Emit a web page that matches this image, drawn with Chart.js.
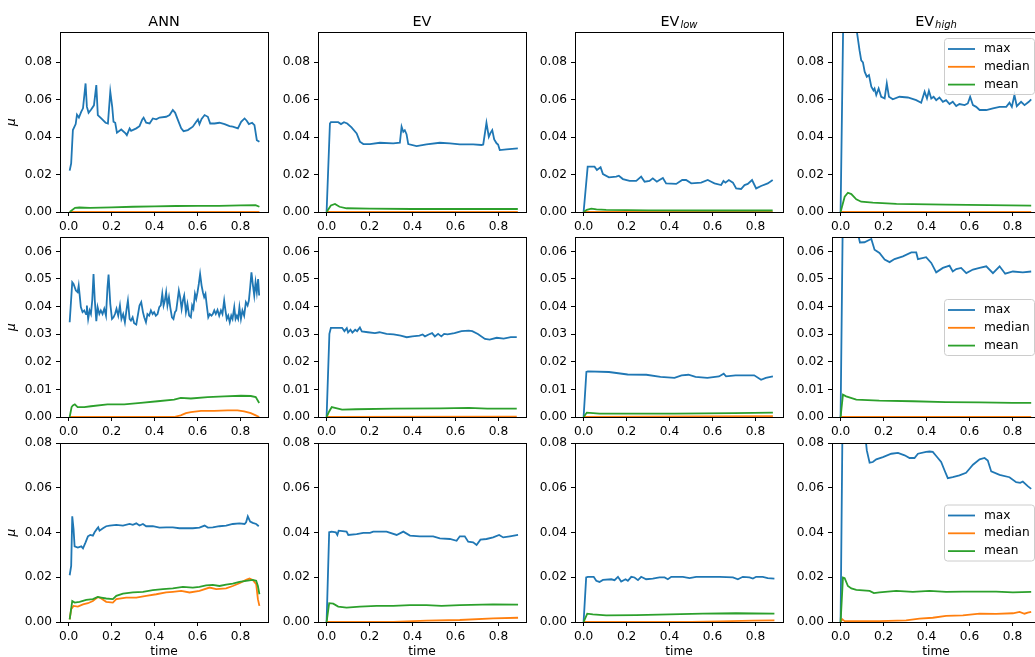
<!DOCTYPE html>
<html>
<head>
<meta charset="utf-8">
<script src="https://cdn.jsdelivr.net/npm/chart.js@4"></script>
<style>
  body { margin: 0; background: #fff; width: 1035px; height: 657px; overflow: hidden; position: relative; }
  canvas { position: absolute; }
</style>
</head>
<body>
<script>
// ---- labels / ticks ----
const seriesNames = ["max", "median", "mean"];
const seriesColors = ["#1f77b4", "#ff7f0e", "#2ca02c"];
const titleMain = ["ANN", "EV", "EV", "EV"];
const titleSub = ["", "", "low", "high"];
const yLabel = "μ";
const xLabel = "time";
const xTicks = [0, 0.2, 0.4, 0.6, 0.8];
const xRange = [-0.04, 0.928];
const rowYMax = [0.0962, 0.0652, 0.08];
const rowYTicks = [
    [0, 0.02, 0.04, 0.06, 0.08],
    [0, 0.01, 0.02, 0.03, 0.04, 0.05, 0.06],
    [0, 0.02, 0.04, 0.06, 0.08]
];

// ---- row 1 ----
const ann1Max = [[0.005,0.0221],[0.012,0.026],[0.02,0.0438],[0.033,0.047],[0.039,0.052],[0.048,0.0505],[0.059,0.0536],[0.067,0.0554],[0.079,0.0687],[0.085,0.0563],[0.093,0.053],[0.105,0.0548],[0.118,0.057],[0.129,0.0678],[0.136,0.0518],[0.152,0.05],[0.172,0.0477],[0.183,0.0473],[0.194,0.0643],[0.203,0.0562],[0.209,0.0482],[0.217,0.0477],[0.225,0.0424],[0.245,0.0441],[0.265,0.042],[0.271,0.0411],[0.284,0.0447],[0.291,0.0434],[0.315,0.0447],[0.33,0.0459],[0.343,0.0495],[0.349,0.0504],[0.361,0.0477],[0.377,0.0473],[0.392,0.05],[0.408,0.0495],[0.423,0.0505],[0.454,0.0509],[0.47,0.0518],[0.485,0.0545],[0.496,0.053],[0.509,0.0491],[0.524,0.0447],[0.535,0.0432],[0.555,0.0438],[0.578,0.0456],[0.594,0.0482],[0.602,0.0495],[0.609,0.047],[0.619,0.0497],[0.633,0.0518],[0.648,0.0509],[0.659,0.0473],[0.679,0.0473],[0.702,0.0477],[0.726,0.047],[0.749,0.0459],[0.764,0.0456],[0.788,0.0447],[0.803,0.0482],[0.819,0.05],[0.829,0.0488],[0.839,0.047],[0.854,0.0477],[0.865,0.0464],[0.876,0.0384],[0.888,0.0375]];
const ann1Median = [[0.005,0],[0.2,0.0001],[0.5,0.0001],[0.888,0.0001]];
const ann1Mean = [[0.005,0],[0.03,0.0022],[0.05,0.0024],[0.1,0.0022],[0.2,0.0025],[0.3,0.0028],[0.4,0.003],[0.5,0.0032],[0.6,0.0033],[0.7,0.0033],[0.8,0.0035],[0.87,0.0037],[0.888,0.0028]];

const ev1Max = [[0,0],[0.0155,0.0473],[0.02,0.048],[0.054,0.048],[0.067,0.047],[0.081,0.048],[0.096,0.0473],[0.116,0.0452],[0.14,0.042],[0.155,0.0376],[0.171,0.0363],[0.202,0.0363],[0.248,0.037],[0.31,0.0367],[0.341,0.037],[0.349,0.0456],[0.357,0.0429],[0.364,0.0437],[0.372,0.0416],[0.38,0.0363],[0.419,0.0352],[0.465,0.0361],[0.527,0.037],[0.574,0.0367],[0.62,0.0361],[0.682,0.0361],[0.721,0.0358],[0.729,0.0361],[0.744,0.0477],[0.755,0.0402],[0.763,0.0423],[0.771,0.0438],[0.78,0.0388],[0.791,0.0367],[0.798,0.0361],[0.806,0.0331],[0.837,0.0335],[0.89,0.034]];
const ev1Median = [[0,0],[0.89,0.0001]];
const ev1Mean = [[0,0],[0.02,0.0035],[0.039,0.0043],[0.06,0.0028],[0.093,0.002],[0.2,0.0018],[0.4,0.0016],[0.6,0.0016],[0.89,0.0016]];

const evLow1Max = [[0,0],[0.019,0.0242],[0.051,0.0242],[0.062,0.0224],[0.079,0.0239],[0.09,0.0203],[0.118,0.0185],[0.152,0.0189],[0.164,0.0194],[0.183,0.0176],[0.214,0.0166],[0.245,0.0166],[0.268,0.0189],[0.284,0.0162],[0.307,0.0166],[0.322,0.018],[0.341,0.0162],[0.353,0.0171],[0.369,0.0182],[0.384,0.0153],[0.431,0.015],[0.459,0.0171],[0.477,0.0171],[0.501,0.0153],[0.547,0.0157],[0.578,0.0171],[0.594,0.0162],[0.609,0.0153],[0.64,0.0144],[0.651,0.0166],[0.66,0.0157],[0.676,0.0171],[0.695,0.0157],[0.71,0.0126],[0.733,0.0123],[0.749,0.0144],[0.764,0.015],[0.784,0.0171],[0.803,0.0126],[0.826,0.0139],[0.857,0.0153],[0.88,0.0171]];
const evLow1Median = [[0,0],[0.88,0.0001]];
const evLow1Mean = [[0,0],[0.015,0.0012],[0.036,0.0018],[0.06,0.0014],[0.105,0.0011],[0.3,0.0009],[0.6,0.0008],[0.88,0.0008]];

const evHigh1Max = [[0,0],[0.015,0.125],[0.05,0.11],[0.075,0.097],[0.088,0.0865],[0.096,0.081],[0.104,0.08],[0.112,0.075],[0.122,0.0723],[0.132,0.0732],[0.143,0.067],[0.153,0.065],[0.158,0.066],[0.166,0.0625],[0.177,0.066],[0.189,0.0616],[0.205,0.0607],[0.215,0.0687],[0.225,0.0616],[0.243,0.0602],[0.274,0.0616],[0.313,0.0612],[0.352,0.0598],[0.375,0.0584],[0.391,0.0643],[0.402,0.0607],[0.411,0.0648],[0.422,0.0607],[0.433,0.0616],[0.445,0.0598],[0.46,0.0612],[0.476,0.0589],[0.491,0.0598],[0.507,0.0577],[0.522,0.0589],[0.538,0.0566],[0.553,0.0577],[0.577,0.0571],[0.592,0.058],[0.603,0.0616],[0.616,0.0571],[0.631,0.0562],[0.647,0.0545],[0.678,0.0545],[0.709,0.0554],[0.74,0.0562],[0.771,0.0562],[0.786,0.0584],[0.797,0.0562],[0.809,0.0625],[0.82,0.0566],[0.84,0.0589],[0.856,0.0571],[0.876,0.0589],[0.887,0.0602]];
const evHigh1Median = [[0,0],[0.887,0]];
const evHigh1Mean = [[0,0],[0.019,0.0082],[0.034,0.0103],[0.05,0.0096],[0.073,0.0068],[0.096,0.0055],[0.15,0.005],[0.26,0.0043],[0.49,0.0039],[0.887,0.0034]];

// ---- row 2 ----
const ann2Max = [[0.005,0.0343],[0.017,0.0488],[0.023,0.0482],[0.034,0.0458],[0.042,0.0452],[0.047,0.0476],[0.051,0.0446],[0.057,0.0398],[0.065,0.038],[0.073,0.0386],[0.081,0.0373],[0.085,0.0404],[0.091,0.0355],[0.098,0.0386],[0.104,0.0373],[0.11,0.0422],[0.116,0.0518],[0.122,0.0422],[0.129,0.0347],[0.135,0.0398],[0.143,0.0373],[0.15,0.0386],[0.158,0.0373],[0.166,0.0392],[0.174,0.0367],[0.181,0.047],[0.186,0.0516],[0.194,0.041],[0.202,0.0355],[0.209,0.0361],[0.216,0.0373],[0.223,0.0392],[0.231,0.0367],[0.239,0.0404],[0.246,0.0355],[0.254,0.0373],[0.262,0.0343],[0.27,0.0392],[0.276,0.0422],[0.284,0.0355],[0.29,0.0349],[0.298,0.0361],[0.305,0.034],[0.315,0.0335],[0.322,0.0367],[0.33,0.0404],[0.338,0.0416],[0.346,0.038],[0.352,0.0361],[0.36,0.0343],[0.367,0.0373],[0.375,0.0367],[0.383,0.0386],[0.391,0.0373],[0.398,0.038],[0.406,0.0367],[0.414,0.0373],[0.422,0.0398],[0.429,0.0404],[0.436,0.0446],[0.442,0.0404],[0.448,0.0422],[0.454,0.0452],[0.46,0.0404],[0.467,0.0434],[0.473,0.0398],[0.481,0.0361],[0.488,0.0355],[0.495,0.038],[0.501,0.0386],[0.507,0.0422],[0.513,0.0458],[0.519,0.0434],[0.526,0.0392],[0.532,0.0422],[0.538,0.044],[0.546,0.038],[0.553,0.041],[0.561,0.0367],[0.569,0.0361],[0.575,0.0404],[0.581,0.0392],[0.588,0.0446],[0.594,0.0428],[0.6,0.0452],[0.606,0.0482],[0.612,0.0518],[0.619,0.0476],[0.625,0.0452],[0.631,0.0434],[0.637,0.0446],[0.643,0.0404],[0.65,0.0361],[0.657,0.0373],[0.665,0.0367],[0.671,0.0373],[0.678,0.0386],[0.685,0.0373],[0.693,0.0388],[0.701,0.0367],[0.709,0.0386],[0.716,0.0373],[0.724,0.0422],[0.73,0.0386],[0.736,0.0355],[0.743,0.0367],[0.75,0.0343],[0.757,0.0367],[0.763,0.0355],[0.771,0.0398],[0.777,0.0355],[0.783,0.0367],[0.789,0.0355],[0.795,0.0398],[0.802,0.0355],[0.809,0.0386],[0.817,0.0367],[0.825,0.0416],[0.833,0.0404],[0.839,0.0422],[0.845,0.047],[0.851,0.0524],[0.857,0.0482],[0.864,0.044],[0.87,0.0488],[0.876,0.0452],[0.882,0.05],[0.887,0.044]];
const ann2Median = [[0.005,0],[0.49,0],[0.522,0.0006],[0.546,0.0014],[0.569,0.0018],[0.616,0.0022],[0.678,0.0022],[0.74,0.0024],[0.786,0.0024],[0.817,0.002],[0.848,0.0014],[0.871,0.0006],[0.887,0]];
const ann2Mean = [[0.005,0],[0.014,0.0036],[0.02,0.0042],[0.029,0.0046],[0.042,0.0036],[0.073,0.0036],[0.104,0.0039],[0.181,0.0046],[0.259,0.0046],[0.336,0.0051],[0.414,0.0057],[0.491,0.0063],[0.522,0.0069],[0.569,0.0067],[0.647,0.0072],[0.724,0.0075],[0.802,0.0077],[0.848,0.0076],[0.871,0.0072],[0.887,0.0051]];

const ev2Max = [[0,0],[0.013,0.0301],[0.02,0.0323],[0.072,0.0323],[0.083,0.0311],[0.094,0.0322],[0.1,0.0306],[0.111,0.0316],[0.12,0.0306],[0.133,0.0316],[0.142,0.0311],[0.155,0.0324],[0.164,0.031],[0.192,0.0307],[0.225,0.0304],[0.246,0.0307],[0.279,0.0301],[0.312,0.0299],[0.345,0.0295],[0.373,0.0289],[0.399,0.0292],[0.432,0.0295],[0.447,0.0299],[0.458,0.0292],[0.475,0.0299],[0.491,0.0304],[0.504,0.0292],[0.519,0.0301],[0.534,0.0292],[0.547,0.0301],[0.563,0.0299],[0.595,0.0304],[0.628,0.0311],[0.661,0.0313],[0.678,0.0311],[0.704,0.0301],[0.737,0.0283],[0.759,0.028],[0.792,0.0287],[0.824,0.0284],[0.857,0.0289],[0.885,0.0289]];
const ev2Median = [[0,0],[0.885,0.0001]];
const ev2Mean = [[0,0],[0.012,0.002],[0.024,0.0036],[0.039,0.0033],[0.072,0.0027],[0.137,0.0028],[0.312,0.003],[0.53,0.0031],[0.661,0.0033],[0.748,0.003],[0.885,0.003]];

const evLow2Max = [[0,0],[0.013,0.0163],[0.02,0.0165],[0.118,0.0163],[0.205,0.0154],[0.292,0.0153],[0.358,0.0145],[0.423,0.0142],[0.456,0.0151],[0.488,0.0153],[0.521,0.0145],[0.576,0.0142],[0.63,0.0147],[0.652,0.0157],[0.663,0.0147],[0.707,0.0151],[0.794,0.0151],[0.826,0.0135],[0.848,0.0142],[0.881,0.0147]];
const evLow2Median = [[0,0],[0.5,0.0002],[0.881,0.0003]];
const evLow2Mean = [[0,0],[0.015,0.0016],[0.074,0.0012],[0.423,0.0012],[0.7,0.0014],[0.881,0.0016]];

const evHigh2Max = [[0,0],[0.012,0.085],[0.07,0.075],[0.082,0.066],[0.09,0.0632],[0.111,0.0633],[0.135,0.0642],[0.143,0.0645],[0.158,0.0606],[0.181,0.0594],[0.205,0.057],[0.228,0.0561],[0.251,0.0572],[0.29,0.0582],[0.329,0.0596],[0.352,0.0596],[0.36,0.0572],[0.398,0.0579],[0.422,0.0558],[0.445,0.0524],[0.476,0.054],[0.507,0.0548],[0.522,0.0527],[0.538,0.0536],[0.561,0.054],[0.585,0.0521],[0.616,0.0534],[0.647,0.054],[0.678,0.0546],[0.709,0.0521],[0.74,0.0546],[0.766,0.0519],[0.802,0.0527],[0.848,0.0524],[0.887,0.0527]];
const evHigh2Median = [[0,0],[0.887,0]];
const evHigh2Mean = [[0,0],[0.011,0.0081],[0.026,0.0075],[0.073,0.0063],[0.18,0.0059],[0.336,0.0057],[0.49,0.0054],[0.647,0.0053],[0.8,0.0051],[0.887,0.0051]];

// ---- row 3 ----
const ann3Max = [[0.005,0.0209],[0.012,0.0251],[0.017,0.0472],[0.023,0.0416],[0.028,0.0338],[0.043,0.0333],[0.059,0.0338],[0.067,0.0329],[0.079,0.0356],[0.09,0.0383],[0.101,0.0389],[0.113,0.0386],[0.121,0.0401],[0.132,0.0416],[0.138,0.0423],[0.144,0.0408],[0.16,0.0419],[0.175,0.0428],[0.191,0.0431],[0.222,0.0434],[0.253,0.0431],[0.284,0.0438],[0.299,0.0434],[0.315,0.0441],[0.33,0.0431],[0.346,0.0438],[0.361,0.0428],[0.392,0.0428],[0.423,0.0422],[0.454,0.0423],[0.485,0.0423],[0.516,0.0419],[0.547,0.0419],[0.578,0.0419],[0.609,0.0422],[0.633,0.0431],[0.648,0.0422],[0.671,0.0423],[0.702,0.0428],[0.733,0.0431],[0.764,0.0438],[0.795,0.0441],[0.819,0.0438],[0.826,0.0446],[0.834,0.0472],[0.845,0.0449],[0.857,0.0443],[0.873,0.0438],[0.885,0.0428]];
const ann3Median = [[0.005,0.0012],[0.012,0.0057],[0.023,0.0072],[0.043,0.0069],[0.067,0.0079],[0.09,0.0084],[0.113,0.0094],[0.136,0.0112],[0.152,0.0105],[0.175,0.009],[0.206,0.0087],[0.222,0.0102],[0.268,0.0109],[0.315,0.0109],[0.361,0.0117],[0.408,0.0124],[0.454,0.0132],[0.485,0.0135],[0.524,0.0139],[0.563,0.0132],[0.609,0.0139],[0.656,0.0154],[0.687,0.0147],[0.733,0.015],[0.764,0.0161],[0.795,0.0173],[0.826,0.0188],[0.842,0.0194],[0.857,0.0188],[0.873,0.0169],[0.881,0.0102],[0.888,0.0072]];
const ann3Mean = [[0.005,0.0012],[0.017,0.0094],[0.028,0.0087],[0.051,0.009],[0.082,0.0099],[0.113,0.0102],[0.136,0.0112],[0.152,0.0109],[0.175,0.0105],[0.206,0.0102],[0.222,0.0117],[0.253,0.0127],[0.299,0.0132],[0.346,0.0135],[0.392,0.0142],[0.439,0.0147],[0.485,0.015],[0.532,0.0157],[0.578,0.0154],[0.609,0.0157],[0.64,0.0164],[0.671,0.0166],[0.702,0.0161],[0.733,0.0167],[0.764,0.0172],[0.795,0.0179],[0.826,0.0184],[0.857,0.0188],[0.873,0.0184],[0.881,0.0161],[0.888,0.0124]];

const ev3Max = [[0,0],[0.012,0.0401],[0.023,0.0404],[0.043,0.0401],[0.05,0.0389],[0.056,0.0408],[0.093,0.0404],[0.101,0.0389],[0.14,0.0393],[0.171,0.0398],[0.202,0.0398],[0.217,0.0404],[0.279,0.0404],[0.326,0.0389],[0.357,0.0404],[0.388,0.0386],[0.434,0.0383],[0.496,0.0383],[0.527,0.0374],[0.574,0.0371],[0.605,0.0363],[0.62,0.0383],[0.643,0.0383],[0.659,0.0359],[0.682,0.0356],[0.698,0.0344],[0.716,0.0368],[0.744,0.0371],[0.775,0.0378],[0.803,0.0389],[0.822,0.0378],[0.853,0.0383],[0.891,0.0389]];
const ev3Median = [[0,0],[0.31,0.0001],[0.465,0.0006],[0.62,0.0009],[0.775,0.0016],[0.891,0.0019]];
const ev3Mean = [[0,0],[0.012,0.0084],[0.031,0.0082],[0.054,0.0069],[0.093,0.0064],[0.155,0.0069],[0.233,0.0072],[0.31,0.0072],[0.388,0.0075],[0.465,0.0075],[0.535,0.0072],[0.62,0.0075],[0.775,0.0079],[0.891,0.0078]];

const evLow3Max = [[0,0],[0.012,0.0199],[0.02,0.0202],[0.047,0.0202],[0.059,0.0184],[0.074,0.0179],[0.09,0.0188],[0.129,0.0191],[0.144,0.0187],[0.16,0.0202],[0.175,0.0181],[0.195,0.0191],[0.206,0.0184],[0.222,0.0202],[0.237,0.0199],[0.253,0.0187],[0.268,0.0202],[0.291,0.0191],[0.322,0.0194],[0.353,0.0199],[0.377,0.0199],[0.392,0.0191],[0.408,0.0202],[0.462,0.0202],[0.493,0.0196],[0.524,0.0202],[0.571,0.0202],[0.633,0.0202],[0.695,0.0199],[0.718,0.0191],[0.741,0.0202],[0.772,0.0199],[0.788,0.0194],[0.803,0.0202],[0.834,0.0202],[0.857,0.0196],[0.888,0.0194]];
const evLow3Median = [[0,0],[0.5,0.0001],[0.633,0.0003],[0.788,0.0006],[0.888,0.0007]];
const evLow3Mean = [[0,0],[0.017,0.0037],[0.043,0.0034],[0.105,0.003],[0.245,0.0031],[0.4,0.0034],[0.555,0.0037],[0.71,0.0039],[0.888,0.0037]];

const evHigh3Max = [[0,0],[0.01,0.1],[0.11,0.088],[0.122,0.0767],[0.135,0.0712],[0.15,0.0715],[0.166,0.0727],[0.197,0.0737],[0.236,0.0752],[0.267,0.0756],[0.298,0.0745],[0.321,0.0733],[0.344,0.0733],[0.36,0.0752],[0.398,0.076],[0.414,0.0762],[0.429,0.076],[0.445,0.0742],[0.468,0.0715],[0.484,0.0677],[0.499,0.0643],[0.522,0.0647],[0.553,0.0655],[0.584,0.0667],[0.6,0.0685],[0.616,0.0703],[0.647,0.0727],[0.67,0.0733],[0.685,0.0722],[0.701,0.0673],[0.74,0.0658],[0.786,0.0647],[0.817,0.0625],[0.836,0.0622],[0.848,0.0628],[0.871,0.0607],[0.887,0.0595]];
const evHigh3Median = [[0,0],[0.008,0.0012],[0.019,0.0004],[0.181,0.0004],[0.305,0.0007],[0.367,0.0015],[0.429,0.0019],[0.491,0.0027],[0.569,0.003],[0.647,0.0037],[0.724,0.0036],[0.802,0.0039],[0.833,0.0045],[0.856,0.0037],[0.871,0.0042],[0.887,0.0045]];
const evHigh3Mean = [[0,0],[0.011,0.0199],[0.019,0.0196],[0.034,0.0161],[0.05,0.015],[0.073,0.0144],[0.135,0.0139],[0.155,0.0129],[0.181,0.0132],[0.259,0.0139],[0.336,0.0135],[0.414,0.0139],[0.491,0.0135],[0.569,0.0136],[0.647,0.0136],[0.724,0.0136],[0.802,0.0132],[0.887,0.0135]];

const panelData = [
    [[ann1Max, ann1Median, ann1Mean], [ev1Max, ev1Median, ev1Mean], [evLow1Max, evLow1Median, evLow1Mean], [evHigh1Max, evHigh1Median, evHigh1Mean]],
    [[ann2Max, ann2Median, ann2Mean], [ev2Max, ev2Median, ev2Mean], [evLow2Max, evLow2Median, evLow2Mean], [evHigh2Max, evHigh2Median, evHigh2Mean]],
    [[ann3Max, ann3Median, ann3Mean], [ev3Max, ev3Median, ev3Mean], [evLow3Max, evLow3Median, evLow3Mean], [evHigh3Max, evHigh3Median, evHigh3Mean]]
];

// ---- layout ----
const FONT = "DejaVu Sans";
const colLeft = [60, 318, 575, 832];
const rowTop = [32, 237, 443];
const rowH = [180, 180, 179];
const plotW = 208;
const yAxisW = 60;
const padRight = 12;

Chart.defaults.font.family = FONT;
Chart.defaults.font.size = 12.2;
Chart.defaults.color = "#000";

// frame, title and legend drawn matplotlib style
const panelDecor = {
    id: "panelDecor",
    afterDatasetsDraw(chart, args, opts) {
        const ctx = chart.ctx;
        const a = chart.chartArea;
        ctx.save();
        ctx.strokeStyle = "#000";
        ctx.lineWidth = 1;
        ctx.strokeRect(a.left + 0.5, a.top + 0.5, a.right - a.left, a.bottom - a.top);

        if (opts.title) {
            ctx.fillStyle = "#000";
            ctx.textAlign = "left";
            ctx.textBaseline = "alphabetic";
            ctx.font = "14.4px '" + FONT + "'";
            const wMain = ctx.measureText(opts.title.main).width;
            ctx.font = "italic 10px '" + FONT + "'";
            const wSub = opts.title.sub ? ctx.measureText(opts.title.sub).width + 1 : 0;
            const x0 = (a.left + a.right) / 2 - (wMain + wSub) / 2;
            const base = a.top - 6.5;
            ctx.font = "14.4px '" + FONT + "'";
            ctx.fillText(opts.title.main, x0, base);
            if (opts.title.sub) {
                ctx.font = "italic 10px '" + FONT + "'";
                ctx.fillText(opts.title.sub, x0 + wMain + 1, base + 2.5);
            }
        }

        if (opts.legend) {
            const w = 90, h = 56;
            const bx = a.right - 6 - w;
            const by = opts.legend === "upper right" ? a.top + 6 : (a.top + a.bottom) / 2 - h / 2;
            ctx.beginPath();
            ctx.roundRect(bx + 0.5, by + 0.5, w, h, 3);
            ctx.fillStyle = "rgba(255,255,255,0.8)";
            ctx.fill();
            ctx.strokeStyle = "#cccccc";
            ctx.stroke();
            ctx.font = "12.2px '" + FONT + "'";
            ctx.textBaseline = "middle";
            ctx.textAlign = "left";
            seriesNames.forEach((name, i) => {
                const ly = by + 11 + i * 17.8;
                ctx.strokeStyle = seriesColors[i];
                ctx.lineWidth = 1.8;
                ctx.beginPath();
                ctx.moveTo(bx + 4, ly);
                ctx.lineTo(bx + 31, ly);
                ctx.stroke();
                ctx.fillStyle = "#000";
                ctx.fillText(name, bx + 40, ly);
            });
        }
        ctx.restore();
    }
};

function makePanel(r, c) {
    const padTop = r === 0 ? 32 : 12;
    const xAxisH = r === 2 ? 37 : 26;
    const canvas = document.createElement("canvas");
    canvas.width = yAxisW + plotW + padRight;
    canvas.height = padTop + rowH[r] + xAxisH;
    canvas.style.left = (colLeft[c] - yAxisW) + "px";
    canvas.style.top = (rowTop[r] - padTop) + "px";
    document.body.appendChild(canvas);

    const datasets = panelData[r][c].map((pts, i) => ({
        label: seriesNames[i],
        data: pts.map(p => ({ x: p[0], y: p[1] })),
        borderColor: seriesColors[i],
        borderWidth: 1.8,
        pointRadius: 0,
        tension: 0,
        fill: false,
        order: 3 - i
    }));

    new Chart(canvas.getContext("2d"), {
        type: "line",
        data: { datasets: datasets },
        options: {
            responsive: false,
            animation: false,
            events: [],
            layout: { padding: { top: padTop, right: padRight, left: 0, bottom: 0 } },
            plugins: {
                legend: { display: false },
                tooltip: { enabled: false },
                panelDecor: {
                    title: r === 0 ? { main: titleMain[c], sub: titleSub[c] } : null,
                    legend: c === 3 ? (r === 0 ? "upper right" : "center right") : null
                }
            },
            scales: {
                x: {
                    type: "linear",
                    min: xRange[0],
                    max: xRange[1],
                    afterBuildTicks: s => { s.ticks = xTicks.map(v => ({ value: v })); },
                    afterFit: s => { s.height = xAxisH; },
                    ticks: { callback: v => v.toFixed(1), padding: 4, maxRotation: 0, autoSkip: false },
                    grid: { drawOnChartArea: false, drawTicks: true, tickLength: 4, color: "#000" },
                    border: { display: false },
                    title: { display: r === 2, text: xLabel, padding: { top: 0, bottom: 0 } }
                },
                y: {
                    min: 0,
                    max: rowYMax[r],
                    afterBuildTicks: s => { s.ticks = rowYTicks[r].map(v => ({ value: v })); },
                    afterFit: s => { s.width = yAxisW; },
                    ticks: { callback: v => v.toFixed(2), padding: 4, autoSkip: false },
                    grid: { drawOnChartArea: false, drawTicks: true, tickLength: 4, color: "#000" },
                    border: { display: false },
                    title: { display: c === 0, text: yLabel, padding: { top: 5, bottom: 0 }, font: { style: "italic" } }
                }
            }
        },
        plugins: [panelDecor]
    });
}

for (let r = 0; r < 3; r++) {
    for (let c = 0; c < 4; c++) {
        makePanel(r, c);
    }
}
</script>
</body>
</html>
